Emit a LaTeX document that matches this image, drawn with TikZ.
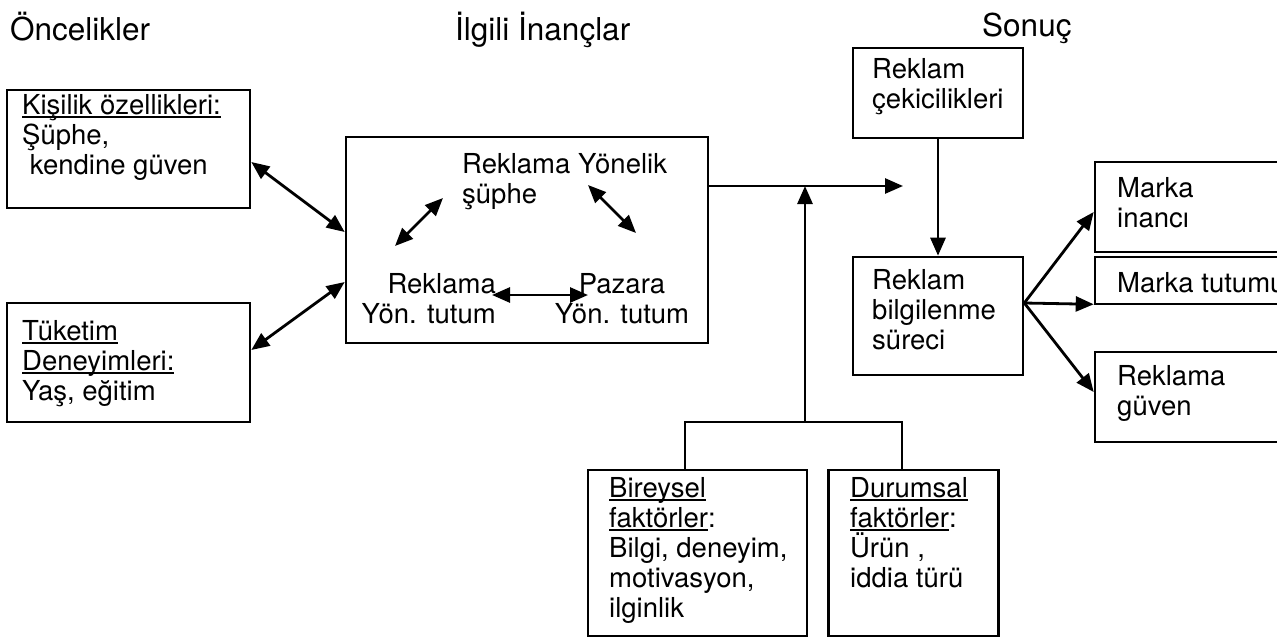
\documentclass[tikz,border=0pt]{standalone}
\usepackage{fontspec}
\setmainfont{TeX Gyre Heros}
\usetikzlibrary{arrows.meta}
\newcommand\myul[1]{\setbox0\hbox{#1}\rlap{\rule[-3.5pt]{\wd0}{1.7pt}}\box0}
\begin{document}
\begin{tikzpicture}[x=1pt,y=-1pt,
  box/.style={draw,line width=2.6pt,inner sep=0pt,rectangle},
  txt/.style={inner sep=0pt,align=left,font=\fontsize{27.5}{30}\selectfont},
  ttl/.style={inner sep=0pt,font=\fontsize{31.5}{34}\selectfont},
  ln/.style={line width=2.8pt},
  arr/.style={line width=2.8pt,-{Triangle[length=18pt,width=15pt]}},
  darr/.style={line width=2.8pt,{Triangle[length=18pt,width=15pt]}-{Triangle[length=18pt,width=15pt]}}]
\useasboundingbox (0,0) rectangle (1277,637);
\clip (0,0) rectangle (1277,637);
\fill[white] (0,0) rectangle (1277,637);
% titles
\node[ttl,anchor=base west] (t1) at (10,40) {Öncelikler};
\node[ttl,anchor=base west] (t2) at (455,40) {İlgili İnançlar};
\node[ttl,anchor=base west] (t3) at (982,36) {Sonuç};
% boxes
\node[box,minimum width=243pt,minimum height=118pt] (k) at (128.5,149) {};
\node[box,minimum width=243pt,minimum height=119pt] (t) at (128.5,362.5) {};
\node[box,minimum width=362pt,minimum height=206pt] (c) at (527,240) {};
\node[box,minimum width=170pt,minimum height=90pt] (ck) at (938,93) {};
\node[box,minimum width=170pt,minimum height=118pt] (rb) at (938,316) {};
\node[box,minimum width=230pt,minimum height=90pt] (mi) at (1210,207) {};
\node[box,minimum width=230pt,minimum height=47pt] (mt) at (1210,280.5) {};
\node[box,minimum width=230pt,minimum height=90pt] (re) at (1210,397) {};
\node[box,minimum width=219pt,minimum height=166pt] (bi) at (697.5,553) {};
\node[box,minimum width=170pt,minimum height=166pt] (du) at (913.5,553) {};
% texts (anchor = baseline of the last line)
\node[txt,anchor=base west] (kx) at (22,174) {\myul{Kişilik özellikleri:}\\Şüphe,\\ \ kendine güven};
\node[txt,anchor=base west] (tx) at (22,400) {\myul{Tüketim}\\\myul{Deneyimleri:}\\Yaş, eğitim};
\node[txt,anchor=base west] (s) at (462,203) {Reklama Yönelik\\şüphe};
\node[txt,anchor=base east,align=right] (ra) at (496,323) {Reklama\\Yön. tutum};
\node[txt,anchor=base,align=center] (pa) at (622,323) {Pazara\\Yön. tutum};
\node[txt,anchor=base west] (ckx) at (872,108) {Reklam\\çekicilikleri};
\node[txt,anchor=base west] (rbx) at (872,349) {Reklam\\bilgilenme\\süreci};
\node[txt,anchor=base west] (mix) at (1117,227) {Marka\\inancı};
\node[txt,anchor=base west] (mtx) at (1117,292) {Marka tutumu};
\node[txt,anchor=base west] (rex) at (1117,415) {Reklama\\güven};
\node[txt,anchor=base west] (bix) at (609,617) {\myul{Bireysel}\\\myul{faktörler}:\\Bilgi, deneyim,\\motivasyon,\\ilginlik};
\node[txt,anchor=base west] (dux) at (850,587) {\myul{Durumsal}\\\myul{faktörler}:\\Ürün ,\\iddia türü};
% left arrows
\draw[darr] ([yshift=-13pt]k.east) -- ([yshift=8pt]c.west);
\draw[darr] ([yshift=12.5pt]t.east) -- ([yshift=-42pt]c.west);
% inner arrows
\coordinate (a1) at (395,246); \coordinate (a2) at (443,198);
\coordinate (b1) at (588,185); \coordinate (b2) at (636,233);
\coordinate (h1) at (492,295); \coordinate (h2) at (588,295);
\draw[darr] (a1) -- (a2);
\draw[darr] (b1) -- (b2);
\draw[darr] (h1) -- (h2);
% output
\coordinate (j) at (903,186);
\draw[arr] ([yshift=54pt]c.east) -- (j);
\draw[arr] (ck.south) -- (rb.north);
\coordinate (m) at (805,422);
\draw[arr] (m) -- (m |- j);
\coordinate (bl) at (685,422); \coordinate (br) at (902,422);
\draw[ln] (bl |- bi.north) -- (bl) -- (br) -- (br |- du.north);
% right arrows
\coordinate (o) at ([yshift=13pt]rb.east);
\draw[arr] (o) -- ([yshift=-5pt]mi.west);
\draw[arr] (o) -- ([yshift=1pt]mt.south west);
\draw[arr] (o) -- ([yshift=5pt]re.west);
\end{tikzpicture}
\end{document}
